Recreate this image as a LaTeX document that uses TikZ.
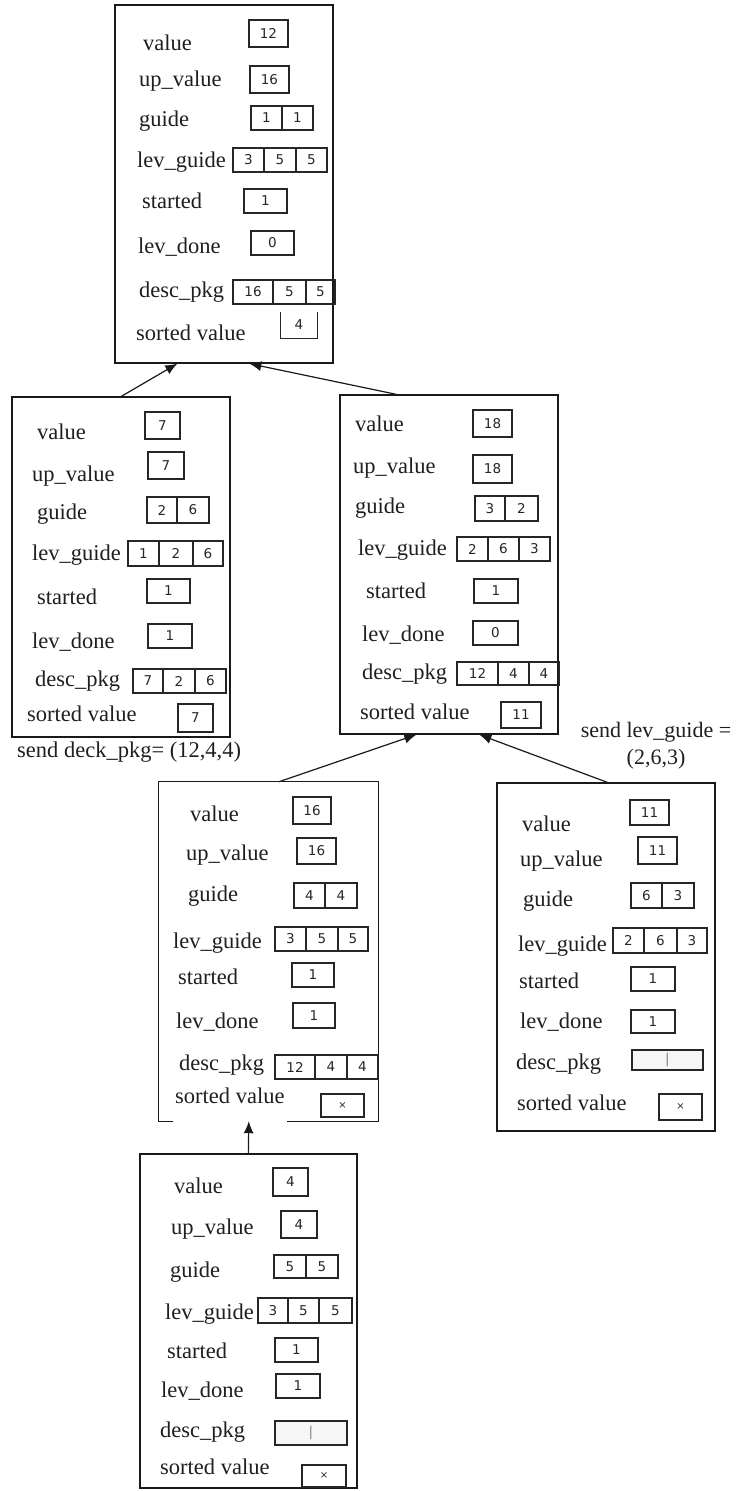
\documentclass[tikz,border=0pt]{standalone}
\usepackage{fontspec}
\setmainfont{Liberation Serif}
\newfontfamily\cellfont{DejaVu Sans}
\usetikzlibrary{arrows.meta,calc}
\tikzset{
  lab/.style={anchor=base west, inner sep=0pt, font=\fontsize{22.5}{27}\selectfont, text=black!88},
  cellbox/.style={draw=black!85, line width=1.1pt, inner sep=0pt, font=\cellfont\fontsize{13.5}{13.5}\selectfont, text=black!85},
  emptycell/.style={cellbox, fill=gray!7, text=gray},
  opencell/.style={inner sep=0pt, font=\cellfont\fontsize{13.5}{13.5}\selectfont, text=black!85},
  framebox/.style={draw=black!90, line width=1.3pt, inner sep=0pt},
  hiddenbox/.style={inner sep=0pt},
  conn/.style={draw=black!90, line width=1.2pt, -{Latex[length=12pt,width=10pt]}},
}
\newcommand\lbl[4]{\node[lab] (#1) at (#2,#3) {#4};}
\newcommand\cel[7][cellbox]{\node[#1, minimum width={#5-#3}, minimum height={#6-#4}] (#2) at ({(#3+#5)/2},{(#4+#6)/2}) {#7};}
\begin{document}
\begin{tikzpicture}[x=1pt,y=-1pt]
\useasboundingbox (0,0) rectangle (740,1491);

% ---------- box 1 (top) ----------
\cel[framebox]{b1}{115}{5}{333}{363}{}
\lbl{b1a}{143}{50}{value}
\lbl{b1b}{139}{86}{up\_value}
\lbl{b1c}{139}{126}{guide}
\lbl{b1d}{137}{167}{lev\_guide}
\lbl{b1e}{142}{208}{started}
\lbl{b1f}{138}{253}{lev\_done}
\lbl{b1g}{139}{297}{desc\_pkg}
\lbl{b1h}{136}{340}{sorted value}
\cel{b1v}{249}{20}{288}{47}{12}
\cel{b1u}{250}{66}{289}{93}{16}
\cel{b1g1}{251}{106}{282}{130}{1}
\cel{b1g2}{282}{106}{313}{130}{1}
\cel{b1l1}{233}{148}{264}{172}{3}
\cel{b1l2}{264}{148}{296}{172}{5}
\cel{b1l3}{296}{148}{327}{172}{5}
\cel{b1s}{244}{189}{287}{213}{1}
\cel{b1d0}{251}{231}{294}{255}{0}
\cel{b1p1}{233}{280}{273}{304}{16}
\cel{b1p2}{273}{280}{306}{304}{5}
\cel{b1p3}{306}{280}{335}{304}{5}
\cel[opencell]{b1sv}{281}{312}{317}{338}{4}
\draw[draw=black!85, line width=1.1pt] (b1sv.north west) -- (b1sv.south west) -- (b1sv.south east) -- (b1sv.north east);

% ---------- box 2 (left) ----------
\cel[framebox]{b2}{12}{397}{230}{737}{}
\lbl{b2a}{37}{439}{value}
\lbl{b2b}{32}{481}{up\_value}
\lbl{b2c}{37}{519}{guide}
\lbl{b2d}{32}{560}{lev\_guide}
\lbl{b2e}{37}{604}{started}
\lbl{b2f}{32}{648}{lev\_done}
\lbl{b2g}{35}{686}{desc\_pkg}
\lbl{b2h}{27}{721}{sorted value}
\cel{b2v}{145}{412}{180}{439}{7}
\cel{b2u}{148}{452}{184}{479}{7}
\cel{b2g1}{147}{497}{177}{523}{2}
\cel{b2g2}{177}{497}{209}{523}{6}
\cel{b2l1}{128}{541}{159}{566}{1}
\cel{b2l2}{159}{541}{193}{566}{2}
\cel{b2l3}{193}{541}{223}{566}{6}
\cel{b2s}{147}{579}{190}{603}{1}
\cel{b2d0}{148}{624}{192}{648}{1}
\cel{b2p1}{133}{669}{163}{693}{7}
\cel{b2p2}{163}{669}{195}{693}{2}
\cel{b2p3}{195}{669}{226}{693}{6}
\cel{b2sv}{178}{704}{213}{732}{7}

% ---------- box 3 (right) ----------
\cel[framebox]{b3}{340}{395}{558}{734}{}
\lbl{b3a}{355}{431}{value}
\lbl{b3b}{353}{473}{up\_value}
\lbl{b3c}{355}{513}{guide}
\lbl{b3d}{358}{555}{lev\_guide}
\lbl{b3e}{366}{598}{started}
\lbl{b3f}{362}{641}{lev\_done}
\lbl{b3g}{362}{679}{desc\_pkg}
\lbl{b3h}{360}{719}{sorted value}
\cel{b3v}{473}{410}{512}{437}{18}
\cel{b3u}{473}{455}{512}{483}{18}
\cel{b3g1}{475}{496}{505}{521}{3}
\cel{b3g2}{505}{496}{538}{521}{2}
\cel{b3l1}{457}{537}{488}{561}{2}
\cel{b3l2}{488}{537}{519}{561}{6}
\cel{b3l3}{519}{537}{550}{561}{3}
\cel{b3s}{474}{579}{518}{603}{1}
\cel{b3d0}{473}{621}{518}{645}{0}
\cel{b3p1}{457}{662}{498}{685}{12}
\cel{b3p2}{498}{662}{529}{685}{4}
\cel{b3p3}{529}{662}{559}{685}{4}
\cel{b3sv}{501}{702}{541}{728}{11}

% ---------- box 4 (middle) ----------
\cel[hiddenbox]{b4}{159}{782}{378}{1121}{}
\draw[draw=black!90, line width=1.3pt] ($(b4.south west)+(14,0)$) -- (b4.south west) -- (b4.north west) -- (b4.north east) -- (b4.south east) -- ($(b4.south east)+(-91,0)$);
\lbl{b4a}{190}{821}{value}
\lbl{b4b}{186}{860}{up\_value}
\lbl{b4c}{188}{901}{guide}
\lbl{b4d}{173}{948}{lev\_guide}
\lbl{b4e}{178}{984}{started}
\lbl{b4f}{176}{1028}{lev\_done}
\lbl{b4g}{179}{1070}{desc\_pkg}
\lbl{b4h}{175}{1103}{sorted value}
\cel{b4v}{293}{797}{331}{824}{16}
\cel{b4u}{297}{838}{336}{864}{16}
\cel{b4g1}{294}{883}{325}{908}{4}
\cel{b4g2}{325}{883}{357}{908}{4}
\cel{b4l1}{275}{927}{306}{951}{3}
\cel{b4l2}{306}{927}{338}{951}{5}
\cel{b4l3}{338}{927}{368}{951}{5}
\cel{b4s}{292}{963}{334}{987}{1}
\cel{b4d0}{293}{1003}{335}{1028}{1}
\cel{b4p1}{275}{1055}{315}{1079}{12}
\cel{b4p2}{315}{1055}{347}{1079}{4}
\cel{b4p3}{347}{1055}{378}{1079}{4}
\cel{b4sv}{321}{1094}{364}{1117}{\fontsize{10}{10}\selectfont ×}

% ---------- box 5 (right bottom) ----------
\cel[framebox]{b5}{497}{783}{715}{1131}{}
\lbl{b5a}{522}{831}{value}
\lbl{b5b}{520}{866}{up\_value}
\lbl{b5c}{523}{906}{guide}
\lbl{b5d}{518}{951}{lev\_guide}
\lbl{b5e}{519}{988}{started}
\lbl{b5f}{520}{1028}{lev\_done}
\lbl{b5g}{516}{1069}{desc\_pkg}
\lbl{b5h}{517}{1110}{sorted value}
\cel{b5v}{630}{800}{669}{825}{11}
\cel{b5u}{638}{837}{677}{864}{11}
\cel{b5g1}{631}{883}{662}{908}{6}
\cel{b5g2}{662}{883}{694}{908}{3}
\cel{b5l1}{613}{928}{644}{953}{2}
\cel{b5l2}{644}{928}{677}{953}{6}
\cel{b5l3}{677}{928}{707}{953}{3}
\cel{b5s}{631}{967}{675}{991}{1}
\cel{b5d0}{631}{1010}{675}{1033}{1}
\cel[emptycell]{b5p}{632}{1050}{703}{1070}{|}
\cel{b5sv}{659}{1094}{702}{1120}{\fontsize{10}{10}\selectfont ×}

% ---------- box 6 (bottom) ----------
\cel[framebox]{b6}{140}{1154}{357}{1488}{}
\lbl{b6a}{174}{1193}{value}
\lbl{b6b}{171}{1234}{up\_value}
\lbl{b6c}{170}{1277}{guide}
\lbl{b6d}{165}{1319}{lev\_guide}
\lbl{b6e}{167}{1358}{started}
\lbl{b6f}{161}{1397}{lev\_done}
\lbl{b6g}{160}{1437}{desc\_pkg}
\lbl{b6h}{160}{1474}{sorted value}
\cel{b6v}{273}{1168}{308}{1196}{4}
\cel{b6u}{281}{1211}{317}{1238}{4}
\cel{b6g1}{274}{1255}{306}{1278}{5}
\cel{b6g2}{306}{1255}{338}{1278}{5}
\cel{b6l1}{258}{1298}{288}{1323}{3}
\cel{b6l2}{288}{1298}{319}{1323}{5}
\cel{b6l3}{319}{1298}{352}{1323}{5}
\cel{b6s}{275}{1338}{318}{1362}{1}
\cel{b6d0}{276}{1374}{320}{1398}{1}
\cel[emptycell]{b6p}{275}{1421}{347}{1445}{|}
\cel{b6sv}{302}{1465}{346}{1487}{\fontsize{10}{10}\selectfont ×}

% ---------- free labels ----------
\lbl{sendA}{17}{757}{send deck\_pkg= (12,4,4)}
\node[font=\fontsize{22}{27}\selectfont, text=black!88, align=center, inner sep=0pt, anchor=north] (sendB) at (656,722) {send lev\_guide =\\(2,6,3)};

% ---------- connectors ----------
\draw[conn] ($(b2.north west)+(110,0)$) -- ($(b1.south west)+(63,0)$);
\draw[conn] ($(b3.north west)+(57,0)$) -- ($(b1.south west)+(135,0)$);
\draw[conn] ($(b4.north west)+(120,0)$) -- ($(b3.south west)+(77,0)$);
\draw[conn] ($(b5.north west)+(111,0)$) -- ($(b3.south west)+(140,0)$);
\draw[conn] ($(b6.north west)+(109,0)$) -- ($(b4.south west)+(90,0)$);
\end{tikzpicture}
\end{document}
